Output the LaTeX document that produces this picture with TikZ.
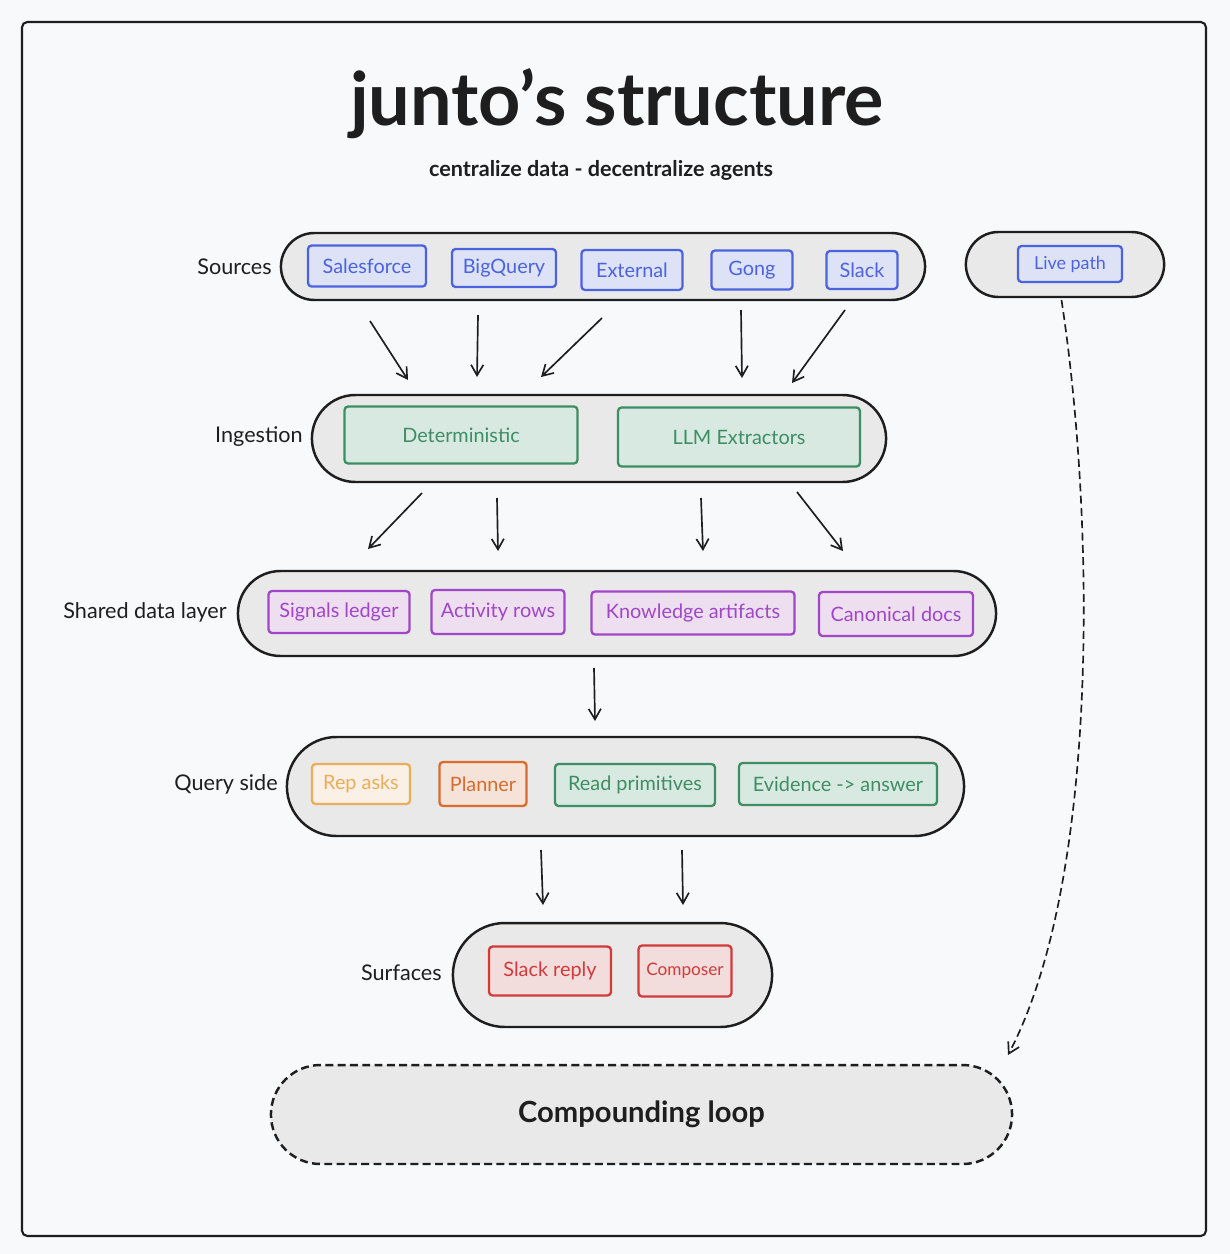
\documentclass[tikz,border=0pt]{standalone}
\usepackage{fontspec}
\setmainfont{Lato}
\usetikzlibrary{arrows.meta,positioning,shapes.misc}
\definecolor{ink}{HTML}{1E1E1E}
\definecolor{page}{HTML}{F8F9FB}
\definecolor{lanegray}{HTML}{E9E9E9}
\definecolor{srcblue}{HTML}{4C63E0}
\definecolor{srcfill}{HTML}{DDE2F7}
\definecolor{ingreen}{HTML}{3E8E63}
\definecolor{infill}{HTML}{D8E9E2}
\definecolor{datpurple}{HTML}{A046C6}
\definecolor{datfill}{HTML}{EDDFF0}
\definecolor{askorange}{HTML}{E9AE5C}
\definecolor{askfill}{HTML}{FBF0E6}
\definecolor{planorange}{HTML}{D96C2C}
\definecolor{planfill}{HTML}{F5E2D8}
\definecolor{outred}{HTML}{D13B3B}
\definecolor{outfill}{HTML}{F2DCDC}
\newcommand{\boxfont}{\fontsize{11.3}{13}\selectfont}
\newcommand{\lanefont}{\fontsize{12.3}{14}\selectfont}

\begin{document}
\begin{tikzpicture}[x=0.02cm,y=-0.02cm,
  lane/.style={rounded rectangle, draw=ink, fill=lanegray, line width=1.4pt},
  lanelabel/.style={anchor=east, font=\lanefont, text=ink, inner sep=0pt},
  box/.style={rectangle, rounded corners=2pt, line width=1.3pt, font=\boxfont, inner sep=0pt},
  sz/.style 2 args={minimum width=#1cm, minimum height=#2cm},
  srcbox/.style={box, draw=srcblue, fill=srcfill, text=srcblue},
  ingbox/.style={box, draw=ingreen, fill=infill, text=ingreen},
  datbox/.style={box, draw=datpurple, fill=datfill, text=datpurple},
  askbox/.style={box, draw=askorange, fill=askfill, text=askorange},
  planbox/.style={box, draw=planorange, fill=planfill, text=planorange},
  outbox/.style={box, draw=outred, fill=outfill, text=outred},
  loopdash/.style={dash pattern=on 4.5pt off 2.5pt},
  flow/.style={draw=ink, line width=0.95pt, -{Straight Barb[length=6pt,width=7pt]}}]

  % page and frame
  \fill[page] (0,0) rectangle (1230,1254);
  \useasboundingbox (0,0) rectangle (1230,1254);
  \draw[ink, line width=1.2pt, rounded corners=3pt, fill=page] (22,22) rectangle (1206,1236);

  % title
  \node[font=\fontsize{42}{46}\selectfont\bfseries, text=ink] (title) at (617,104) {junto's structure};
  \node[font=\fontsize{12.3}{14}\selectfont\bfseries, text=ink] (subtitle) at (601,170) {centralize data - decentralize agents};

  % lanes
  \node[lane, sz={13.12}{1.34}] (srcrow) at (603,266.5) {};
  \node[lane, sz={4.20}{1.30}] (liverow) at (1065,264.5) {};
  \node[lane, sz={11.72}{1.74}] (ingrow) at (599,438.5) {};
  \node[lane, sz={15.40}{1.70}] (datarow) at (617,613.5) {};
  \node[lane, sz={13.78}{1.98}] (qryrow) at (625.5,786.5) {};
  \node[lane, sz={6.62}{2.08}] (surfrow) at (612.5,975) {};
  \node[lane, loopdash, sz={15.06}{1.98}, font=\fontsize{16.6}{20}\selectfont\bfseries, text=ink] (loop) at (641.5,1114.5) {Compounding loop};

  \node[lanelabel] (srclbl) at (272,267) {Sources};
  \node[lanelabel] (inglbl) at (303,437) {Ingestion};
  \node[lanelabel] (datlbl) at (227,612) {Shared data layer};
  \node[lanelabel] (qrylbl) at (278,784) {Query side};
  \node[lanelabel] (surflbl) at (442,973) {Surfaces};

  % sources
  \node[srcbox, sz={2.36}{0.82}] (salesforce) at (367,266) {Salesforce};
  \node[srcbox, sz={2.08}{0.76}] (bigquery) at (504,268) {BigQuery};
  \node[srcbox, sz={2.02}{0.80}] (external) at (632,270) {External};
  \node[srcbox, sz={1.62}{0.78}] (gong) at (752,270) {Gong};
  \node[srcbox, sz={1.42}{0.76}] (slack) at (862,270) {Slack};
  \node[srcbox, sz={2.08}{0.72}, font=\fontsize{10.2}{12}\selectfont] (live) at (1070,264) {Live path};

  % ingestion
  \node[ingbox, sz={4.66}{1.14}] (determ) at (461,435) {Deterministic};
  \node[ingbox, sz={4.84}{1.18}] (llmext) at (739,437) {LLM Extractors};

  % shared data layer
  \node[datbox, sz={2.82}{0.84}] (signals) at (339,612) {Signals ledger};
  \node[datbox, sz={2.66}{0.88}] (activity) at (498,612) {Activity rows};
  \node[datbox, sz={4.06}{0.86}] (knowledge) at (693,613) {Knowledge artifacts};
  \node[datbox, sz={3.08}{0.88}] (canonical) at (896,614) {Canonical docs};

  % query side
  \node[askbox, sz={1.96}{0.80}] (repasks) at (361,784) {Rep asks};
  \node[planbox, sz={1.74}{0.88}] (planner) at (483,784) {Planner};
  \node[ingbox, sz={3.20}{0.84}] (readprim) at (635,785) {Read primitives};
  \node[ingbox, sz={3.96}{0.84}] (evidence) at (838,784) {Evidence -> answer};

  % surfaces
  \node[outbox, sz={2.44}{0.98}] (slackreply) at (550,971) {Slack reply};
  \node[outbox, sz={1.86}{1.02}, font=\fontsize{9.8}{12}\selectfont] (composer) at (685,971) {Composer};

  % arrows between lanes
  \foreach \n/\xa/\ya/\xb/\yb in {a1/370/321/408/380, a2/478/315/477/377, a3/602/318/541/377,
      a4/741/310/742/378, a5/845/310/792/383, b1/422/493/368/549, b2/497/498/498/551,
      b3/701/498/703/551, b4/797/492/843/551, c1/594/668/595/721,
      d1/541/850/543/905, d2/682/850/683/905} {
    \coordinate (\n s) at (\xa,\ya);
    \coordinate (\n e) at (\xb,\yb);
    \draw[flow] (\n s) -- (\n e);
  }

  % live path into the loop
  \coordinate (liveend) at (1008,1055);
  \draw[flow, loopdash] ([xshift=-2pt,yshift=-1pt]liverow.south) .. controls (1095,520) and (1100,880) .. (liveend);
\end{tikzpicture}
\end{document}
